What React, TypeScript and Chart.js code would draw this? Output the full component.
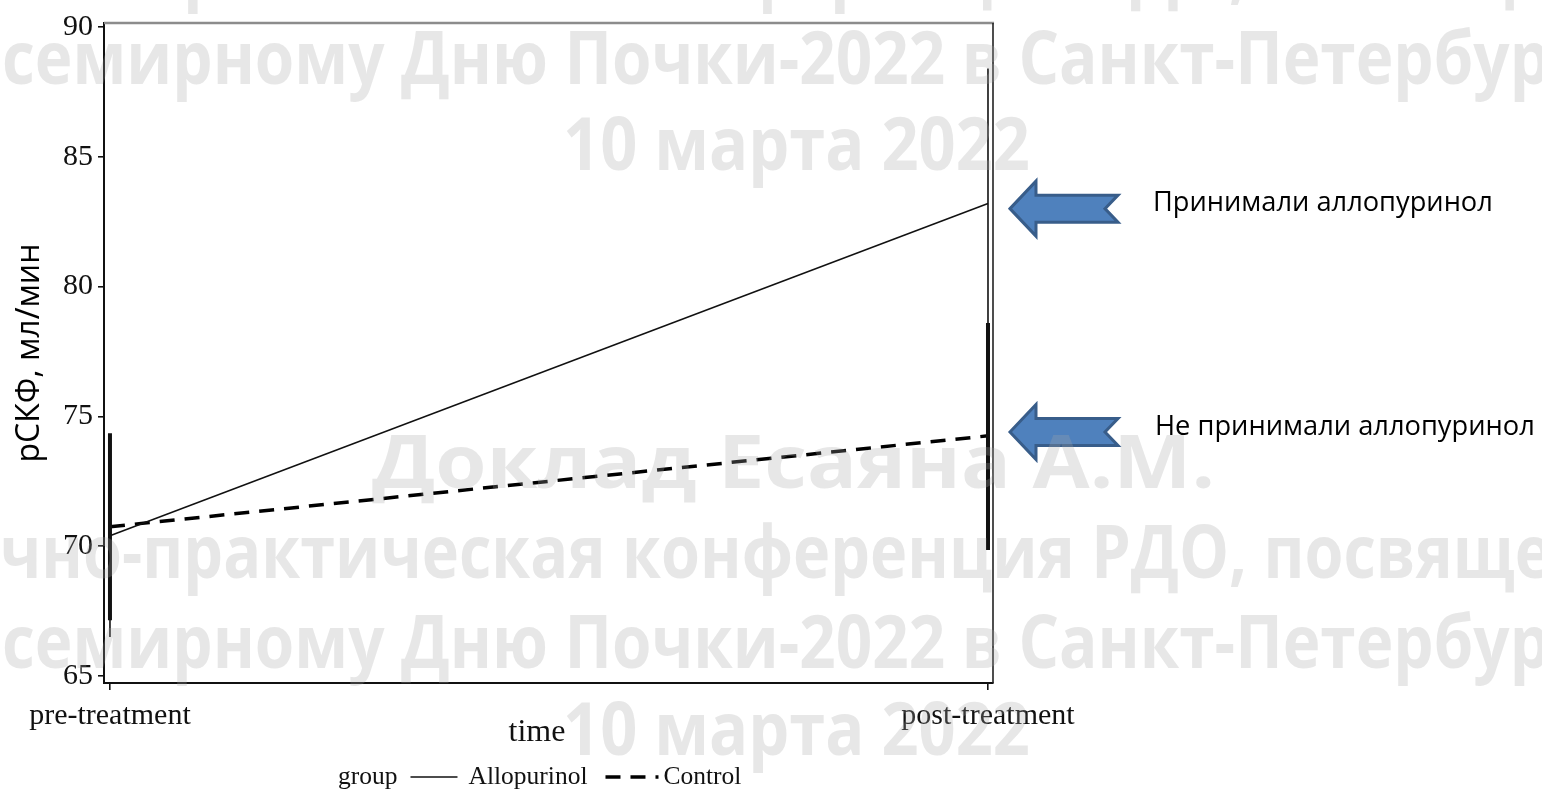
import React, { useEffect, useRef } from 'react';
import { Chart, registerables } from 'chart.js';

Chart.register(...registerables);

// Time points and group means of eGFR (ml/min), with confidence-interval limits
const categories = ['pre-treatment', 'post-treatment'];
const allopurinolMean = [70.4, 83.2];
const allopurinolLow = [66.5, 78.0];
const allopurinolHigh = [74.3, 88.4];
const controlMean = [70.75, 74.25];
const controlLow = [67.15, 69.85];
const controlHigh = [74.35, 78.6];
const yTicks = [65, 70, 75, 80, 85, 90];

const seriesNames = ['Allopurinol', 'Control'];
const legendTitle = 'group';
const xTitle = 'time';
const yTitle = 'рСКФ, мл/мин';

// Callout labels and the eGFR level each arrow points at
const calloutTexts = ['Принимали аллопуринол', 'Не принимали аллопуринол'];
const calloutValues = [83.0, 74.4];

// Conference stamp lines
const stampDoklad = 'Доклад Есаяна А.М.';
const stampConference = 'Научно-практическая конференция РДО, посвященная';
const stampKidneyDay = 'Всемирному Дню Почки-2022 в Санкт-Петербурге';
const stampDate = '10 марта 2022';

const SERIF = '"Liberation Serif", "Times New Roman", serif';
const SANS = '"Open Sans", "Noto Sans", sans-serif';

const decorPlugin = {
  id: 'decor',
  afterDatasetsDraw(chart: any) {
    const { ctx, chartArea: a, scales } = chart;
    const x = scales.x;
    const y = scales.y;
    ctx.save();
    // vertical interval bars at each time point
    const bars = [
      { low: allopurinolLow, high: allopurinolHigh, width: 1.6 },
      { low: controlLow, high: controlHigh, width: 4 },
    ];
    ctx.strokeStyle = '#111';
    ctx.lineCap = 'butt';
    bars.forEach((b) => {
      ctx.lineWidth = b.width;
      categories.forEach((_, i) => {
        const px = x.getPixelForValue(i);
        ctx.beginPath();
        ctx.moveTo(px, y.getPixelForValue(b.low[i]));
        ctx.lineTo(px, y.getPixelForValue(b.high[i]));
        ctx.stroke();
      });
    });
    // top (grey) and right frame lines
    ctx.lineWidth = 2.5;
    ctx.strokeStyle = '#8c8c8c';
    ctx.beginPath();
    ctx.moveTo(a.left, a.top);
    ctx.lineTo(a.right + 1, a.top);
    ctx.stroke();
    ctx.lineWidth = 1.6;
    ctx.strokeStyle = '#222';
    ctx.beginPath();
    ctx.moveTo(a.right, a.top);
    ctx.lineTo(a.right, a.bottom);
    ctx.stroke();
    ctx.restore();
  },
  afterDraw(chart: any) {
    const { ctx, chartArea: a, scales } = chart;
    const y = scales.y;
    const ds = chart.data.datasets;
    ctx.save();

    // x-axis title
    ctx.font = `32px ${SERIF}`;
    ctx.fillStyle = '#111';
    ctx.textAlign = 'center';
    ctx.textBaseline = 'alphabetic';
    ctx.fillText(xTitle, 537, 741);

    // legend row under the axis title
    const ly = 777;
    ctx.font = `25.5px ${SERIF}`;
    ctx.textBaseline = 'middle';
    ctx.textAlign = 'left';
    let cx = 338;
    ctx.fillText(legendTitle, cx, ly);
    cx += ctx.measureText(legendTitle).width + 13;
    ctx.strokeStyle = ds[0].borderColor;
    ctx.lineWidth = 1.6;
    ctx.setLineDash([]);
    ctx.beginPath();
    ctx.moveTo(cx, ly);
    ctx.lineTo(cx + 47, ly);
    ctx.stroke();
    cx += 47 + 11;
    ctx.fillText(seriesNames[0], cx, ly);
    cx += ctx.measureText(seriesNames[0]).width + 18;
    ctx.strokeStyle = ds[1].borderColor;
    ctx.lineWidth = 3.5;
    ctx.setLineDash(ds[1].borderDash);
    ctx.beginPath();
    ctx.moveTo(cx, ly);
    ctx.lineTo(cx + 53, ly);
    ctx.stroke();
    ctx.setLineDash([]);
    cx += 53 + 5;
    ctx.fillText(seriesNames[1], cx, ly);

    // callout arrows and their captions
    const fitFont = (text: string, target: number, weight: string) => {
      ctx.font = `${weight} 40px ${SANS}`;
      const w = ctx.measureText(text).width;
      return (40 * target) / w;
    };
    const captionWidths = [340, 380];
    calloutTexts.forEach((text, i) => {
      const ty = y.getPixelForValue(calloutValues[i]);
      const tx = a.right + 17;
      ctx.beginPath();
      ctx.moveTo(tx, ty);
      ctx.lineTo(tx + 26, ty - 27.5);
      ctx.lineTo(tx + 26, ty - 13.5);
      ctx.lineTo(tx + 108, ty - 13.5);
      ctx.lineTo(tx + 95, ty);
      ctx.lineTo(tx + 108, ty + 13.5);
      ctx.lineTo(tx + 26, ty + 13.5);
      ctx.lineTo(tx + 26, ty + 27.5);
      ctx.closePath();
      ctx.fillStyle = '#4f81bd';
      ctx.fill();
      ctx.lineJoin = 'miter';
      ctx.lineWidth = 3;
      ctx.strokeStyle = '#385d8a';
      ctx.stroke();
      const size = fitFont(text, captionWidths[i], 'normal');
      ctx.font = `normal ${size}px ${SANS}`;
      ctx.fillStyle = '#000';
      ctx.textBaseline = 'middle';
      ctx.textAlign = 'left';
      ctx.fillText(text, tx + 143 + (i === 1 ? 2 : 0), ty - 5);
    });

    // translucent conference stamp across the whole figure
    ctx.font = `bold 74px ${SANS}`;
    ctx.textAlign = 'left';
    ctx.textBaseline = 'alphabetic';
    ctx.fillStyle = 'rgba(165,165,165,0.27)';
    const W = (s: string) => ctx.measureText(s).width;
    // [line, first visible char, end of visible part, visible left, visible right, baseline]
    const rows: [string, number, number, number, number, number][] = [
      [stampConference, 3, 44, 0, 1552, -4],
      [stampKidneyDay, 1, 42, 2, 1550, 84],
      [stampDate, 0, stampDate.length, 563, 1030, 170],
      [stampDoklad, 0, stampDoklad.length, 372, 1215, 488],
      [stampConference, 3, 44, 0, 1552, 578],
      [stampKidneyDay, 1, 42, 2, 1550, 668],
      [stampDate, 0, stampDate.length, 563, 1030, 755],
    ];
    rows.forEach(([full, start, end, left, right, base]) => {
      const total = W(full);
      const fromStart = W(full.slice(start));
      const fromEnd = W(full.slice(end));
      const visWidth = fromStart - fromEnd;
      const sx = (right - left) / visWidth;
      const pre = (total - fromStart) * sx;
      ctx.save();
      ctx.translate(left - pre, base);
      ctx.scale(sx, 1);
      ctx.fillText(full, 0, 0);
      ctx.restore();
    });
    ctx.restore();
  },
};

export default function App() {
  const ref = useRef<HTMLCanvasElement>(null);

  useEffect(() => {
    const canvas = ref.current;
    if (!canvas) return;
    const chart = new Chart(canvas, {
      type: 'line',
      data: {
        datasets: [
          {
            label: seriesNames[0],
            data: allopurinolMean.map((v, i) => ({ x: i, y: v })),
            borderColor: '#111',
            borderWidth: 1.5,
            pointRadius: 0,
            tension: 0,
            fill: false,
          },
          {
            label: seriesNames[1],
            data: controlMean.map((v, i) => ({ x: i, y: v })),
            borderColor: '#000',
            borderWidth: 3.5,
            borderDash: [15, 10],
            pointRadius: 0,
            tension: 0,
            fill: false,
          },
        ],
      },
      options: {
        responsive: false,
        animation: false,
        events: [],
        layout: { padding: { left: 0, top: 18, right: 549, bottom: 0 } },
        plugins: { legend: { display: false }, tooltip: { enabled: false } },
        scales: {
          x: {
            type: 'linear',
            min: -0.0068,
            max: 1.0057,
            afterBuildTicks: (s: any) => {
              s.ticks = categories.map((_, i) => ({ value: i }));
            },
            afterFit: (s: any) => {
              s.height = 109;
            },
            ticks: {
              autoSkip: false,
              maxRotation: 0,
              padding: 8,
              color: '#111',
              font: { family: SERIF, size: 30 },
              callback: (v: any) => categories[Math.round(Number(v))] ?? '',
            },
            grid: { drawOnChartArea: false, drawTicks: true, tickLength: 7, color: '#111', lineWidth: 1.6 },
            border: { display: true, color: '#111', width: 2 },
            title: { display: false },
          },
          y: {
            type: 'linear',
            min: 64.73,
            max: 90.15,
            afterBuildTicks: (s: any) => {
              s.ticks = yTicks.map((v) => ({ value: v }));
            },
            afterFit: (s: any) => {
              s.width = 104;
            },
            ticks: {
              padding: 5,
              color: '#111',
              font: { family: SERIF, size: 30 },
            },
            grid: { drawOnChartArea: false, drawTicks: true, tickLength: 6, color: '#111', lineWidth: 1.6 },
            border: { display: true, color: '#111', width: 2 },
            title: {
              display: true,
              text: yTitle,
              color: '#000',
              font: { family: SANS, size: 32 },
              padding: { top: 11, bottom: 0 },
            },
          },
        },
      },
      plugins: [decorPlugin],
    } as any);

    const fonts = [`30px ${SERIF}`, `32px ${SANS}`, `bold 74px ${SANS}`];
    Promise.all(fonts.map((f) => document.fonts.load(f)))
      .then(() => chart.update())
      .catch(() => undefined);

    return () => chart.destroy();
  }, []);

  return (
    <div style={{ position: 'absolute', left: 0, top: 0, width: 1542, height: 792, background: '#fff' }}>
      <canvas ref={ref} width={1542} height={792} style={{ display: 'block' }} />
    </div>
  );
}
